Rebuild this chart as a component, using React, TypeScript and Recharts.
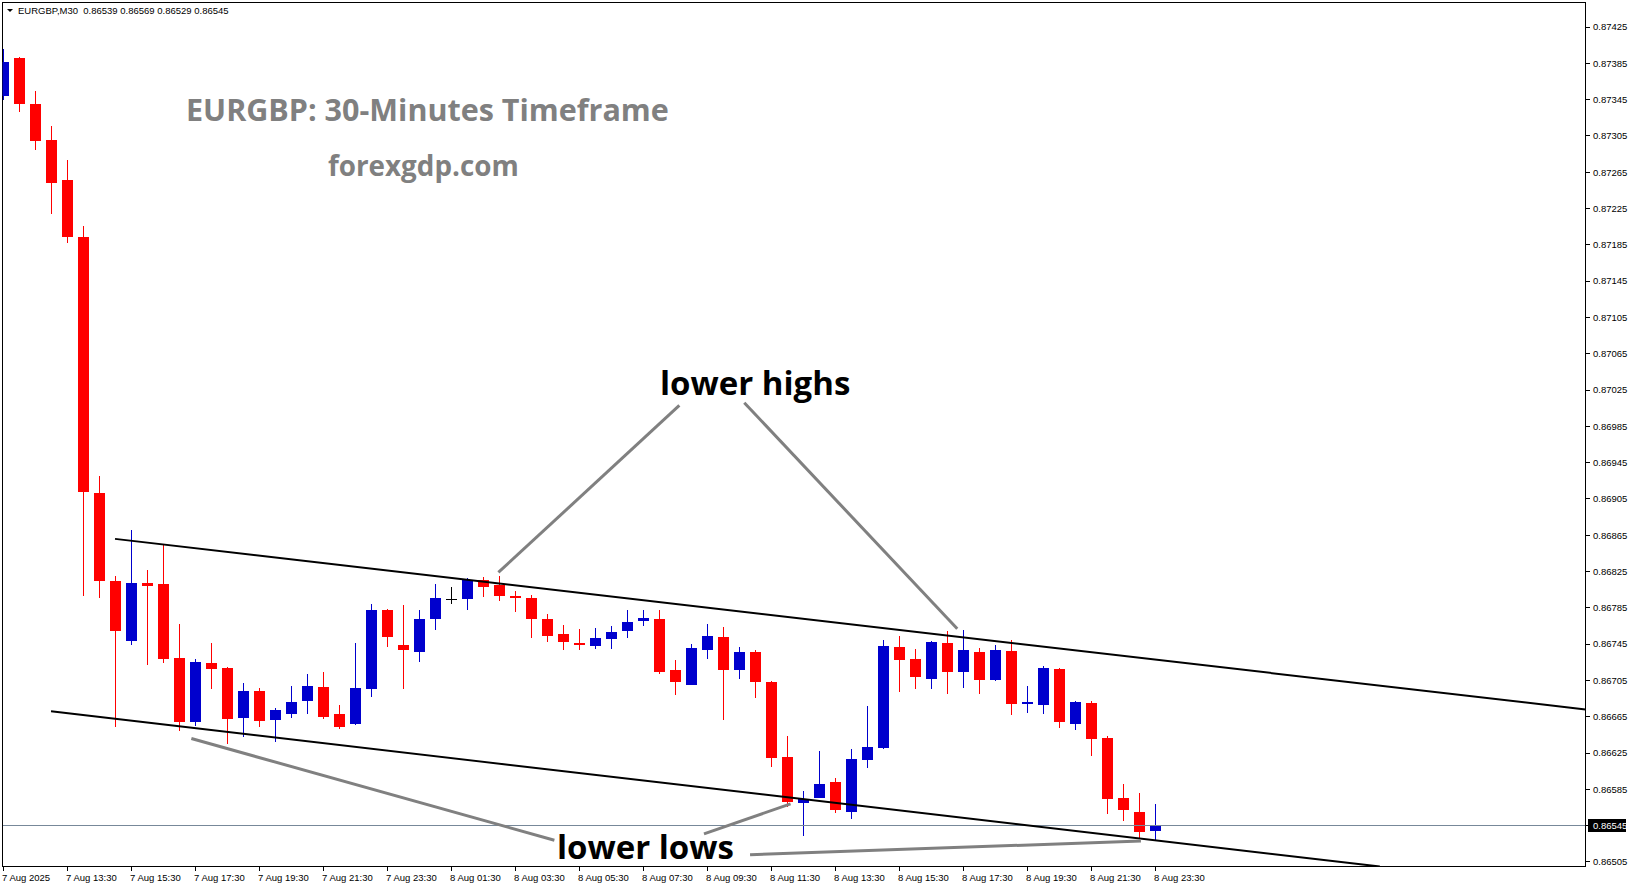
// EURGBP M30 candles in an MT4-style frame: blue bull / red bear bodies,
// black channel lines, grey pointer lines and the last-price tag on the right.

import {
  ComposedChart,
  Bar,
  XAxis,
  YAxis,
  ReferenceLine,
  ReferenceArea,
} from "recharts";

const OPEN = [
  0.87349, 0.87391, 0.8734, 0.873, 0.87256, 0.87194, 0.86912, 0.86815, 0.86748, 0.86812,
  0.86811, 0.8673, 0.86659, 0.86724, 0.86719, 0.86664, 0.86693, 0.86661, 0.86668, 0.86682,
  0.86698, 0.86668, 0.86657, 0.86696, 0.86783, 0.86744, 0.86736, 0.86773, 0.86795, 0.86795,
  0.86816, 0.8681, 0.86798, 0.86796, 0.86773, 0.86756, 0.86746, 0.86743, 0.86751, 0.86759,
  0.8677, 0.86773, 0.86717, 0.867, 0.86739, 0.86753, 0.86716, 0.86736, 0.86703, 0.86621,
  0.8657, 0.86575, 0.86593, 0.8656, 0.86617, 0.86631, 0.86742, 0.86729, 0.86707, 0.86746,
  0.86714, 0.86736, 0.86706, 0.86738, 0.86679, 0.86678, 0.86718, 0.86657, 0.8668, 0.86642,
  0.86575, 0.8656, 0.86539,
];
const HIGH = [
  0.87401, 0.87392, 0.87355, 0.87316, 0.87278, 0.87206, 0.8693, 0.8682, 0.86871, 0.86827,
  0.86855, 0.86767, 0.86729, 0.86746, 0.8672, 0.86702, 0.86697, 0.86675, 0.86699, 0.86712,
  0.86714, 0.86678, 0.86746, 0.86789, 0.86784, 0.86788, 0.86783, 0.86811, 0.86808, 0.86818,
  0.86819, 0.8682, 0.86804, 0.86799, 0.86778, 0.86766, 0.86762, 0.86763, 0.86765, 0.86783,
  0.86783, 0.86783, 0.86728, 0.86745, 0.86767, 0.86764, 0.86742, 0.86739, 0.86704, 0.86644,
  0.86583, 0.86627, 0.86598, 0.8663, 0.86677, 0.8675, 0.86754, 0.8674, 0.86748, 0.8676,
  0.86761, 0.86741, 0.86744, 0.8675, 0.86699, 0.86721, 0.86719, 0.86682, 0.86682, 0.86644,
  0.86591, 0.86581, 0.86569,
];
const LOW = [
  0.87345, 0.87331, 0.87289, 0.87219, 0.87187, 0.86798, 0.86796, 0.86654, 0.86744, 0.86722,
  0.86724, 0.86649, 0.86655, 0.86696, 0.86635, 0.86643, 0.86654, 0.86637, 0.86664, 0.86668,
  0.86663, 0.86651, 0.86656, 0.86687, 0.86742, 0.86696, 0.86725, 0.86761, 0.86789, 0.86783,
  0.86797, 0.86792, 0.8678, 0.86752, 0.86747, 0.86739, 0.86739, 0.8674, 0.8674, 0.86752,
  0.86765, 0.86712, 0.86689, 0.867, 0.86729, 0.86661, 0.86707, 0.86686, 0.8661, 0.86566,
  0.86534, 0.86575, 0.86559, 0.86552, 0.86609, 0.86629, 0.86692, 0.86696, 0.86696, 0.8669,
  0.86697, 0.8669, 0.86704, 0.86667, 0.86669, 0.86668, 0.86653, 0.8665, 0.86622, 0.86558,
  0.8655, 0.86531, 0.86529,
];
const CLOSE = [
  0.87386, 0.8734, 0.87299, 0.87253, 0.87194, 0.86913, 0.86815, 0.86759, 0.86812, 0.86809,
  0.86729, 0.86659, 0.86725, 0.86718, 0.86663, 0.86693, 0.8666, 0.86672, 0.86681, 0.86699,
  0.86665, 0.86654, 0.86697, 0.86783, 0.86753, 0.86739, 0.86773, 0.86796, 0.86795, 0.86816,
  0.86808, 0.86798, 0.86796, 0.86773, 0.86754, 0.86747, 0.86744, 0.86752, 0.86758, 0.86769,
  0.86774, 0.86714, 0.86703, 0.86741, 0.86754, 0.86716, 0.86736, 0.86703, 0.8662, 0.86571,
  0.86574, 0.86591, 0.86562, 0.86619, 0.86632, 0.86743, 0.86728, 0.86709, 0.86747, 0.86714,
  0.86739, 0.86705, 0.86739, 0.86679, 0.86681, 0.86719, 0.86659, 0.86681, 0.86641, 0.86574,
  0.86562, 0.86538, 0.86545,
];

// one label every 4 bars (2 hours), starting at the first bar
const TIME_LABELS = [
  "7 Aug 2025", "7 Aug 13:30", "7 Aug 15:30", "7 Aug 17:30", "7 Aug 19:30",
  "7 Aug 21:30", "7 Aug 23:30", "8 Aug 01:30", "8 Aug 03:30", "8 Aug 05:30",
  "8 Aug 07:30", "8 Aug 09:30", "8 Aug 11:30", "8 Aug 13:30", "8 Aug 15:30",
  "8 Aug 17:30", "8 Aug 19:30", "8 Aug 21:30", "8 Aug 23:30",
];
const PRICE_TICKS = [
  0.87425, 0.87385, 0.87345, 0.87305, 0.87265, 0.87225, 0.87185, 0.87145,
  0.87105, 0.87065, 0.87025, 0.86985, 0.86945, 0.86905, 0.86865, 0.86825,
  0.86785, 0.86745, 0.86705, 0.86665, 0.86625, 0.86585, 0.86545, 0.86505,
];
const LAST_PRICE = 0.86545;

// drawn objects, as [bar index, price] end points
const CHANNEL_UPPER = [{ x: 6.97, y: 0.86861 }, { x: 98.875, y: 0.86673 }];
const CHANNEL_LOWER = [{ x: 2.97, y: 0.86671 }, { x: 86.02, y: 0.865 }];
const HIGH_POINTERS = [
  [{ x: 42.24, y: 0.87008 }, { x: 30.93, y: 0.86824 }],
  [{ x: 46.3, y: 0.87011 }, { x: 59.61, y: 0.86762 }],
];
const LOW_POINTERS = [
  [{ x: 11.74, y: 0.86641 }, { x: 34.43, y: 0.86529 }],
  [{ x: 43.78, y: 0.86536 }, { x: 49.19, y: 0.86569 }],
  [{ x: 46.66, y: 0.86513 }, { x: 71.09, y: 0.86528 }],
];

const BULL = "#0000CD";
const BEAR = "#FF0000";
const DOJI = "#000000";
const GREY = "#808080";
const AXIS_FONT = "'Liberation Sans', Arial, sans-serif";
const TITLE_FONT = "'Open Sans', 'Noto Sans', sans-serif";

const data = OPEN.map((o, i) => ({
  idx: i,
  open: o,
  high: HIGH[i],
  low: LOW[i],
  close: CLOSE[i],
  range: [LOW[i], HIGH[i]],
}));

const TICK_IDX = TIME_LABELS.map((_, k) => k * 4);

function Candle(props: any) {
  const { x, y, width, height, payload } = props;
  if (!payload) return null;
  const cx = x + width / 2;
  const top = Math.min(y, y + height);
  const bottom = Math.max(y, y + height);
  const span = payload.high - payload.low;
  const toY = (v: number) =>
    span === 0 ? top : top + ((payload.high - v) / span) * (bottom - top);
  const oY = toY(payload.open);
  const cY = toY(payload.close);
  const color =
    payload.close > payload.open ? BULL : payload.close < payload.open ? BEAR : DOJI;
  const bodyTop = Math.min(oY, cY);
  const bodyH = Math.max(Math.abs(cY - oY), 1);
  return (
    <g shapeRendering="crispEdges">
      <rect x={cx - 0.5} y={top} width={1} height={Math.max(bottom - top, 1)} fill={color} />
      <rect x={cx - 5.5} y={bodyTop} width={11} height={bodyH} fill={color} />
    </g>
  );
}

function TimeTick(props: any) {
  const { x, y, payload } = props;
  const label = TIME_LABELS[Math.round(payload.value / 4)];
  return (
    <g>
      <line x1={x} x2={x} y1={y} y2={y + 4} stroke="#000" shapeRendering="crispEdges" />
      <text x={x - 1.5} y={y + 14} fontFamily={AXIS_FONT} fontSize={9.5} fill="#000">
        {label}
      </text>
    </g>
  );
}

// price labels; the last price gets the black bid tag instead of a plain label
function PriceTick(props: any) {
  const { x, y, payload } = props;
  const v = Number(payload.value);
  const isLast = Math.abs(v - LAST_PRICE) < 1e-7;
  return (
    <g>
      <line x1={x} x2={x + 4} y1={y} y2={y} stroke="#000" shapeRendering="crispEdges" />
      {isLast && (
        <rect x={x + 2.5} y={y - 6.5} width={38} height={13} fill="#000" shapeRendering="crispEdges" />
      )}
      <text
        x={x + 7.5}
        y={y}
        dy="0.35em"
        fontFamily={AXIS_FONT}
        fontSize={9.5}
        fill={isLast ? "#fff" : "#000"}
      >
        {v.toFixed(5)}
      </text>
    </g>
  );
}

export default function App() {
  const last = OPEN.length - 1;
  const header = `EURGBP,M30  ${OPEN[last].toFixed(5)} ${HIGH[last].toFixed(5)} ${LOW[last].toFixed(5)} ${CLOSE[last].toFixed(5)}`;

  return (
    <div style={{ position: "absolute", left: 0, top: 0, width: 1631, height: 888, background: "#fff" }}>
      <ComposedChart
        width={1631}
        height={888}
        data={data}
        margin={{ top: 2.5, right: 0, bottom: 0, left: 2.5 }}
      >
        <XAxis
          type="number"
          dataKey="idx"
          domain={[-0.0625, 98.875]}
          allowDataOverflow
          ticks={TICK_IDX}
          interval={0}
          tick={<TimeTick />}
          tickLine={false}
          tickSize={0}
          tickMargin={0}
          height={21.5}
          axisLine={{ stroke: "#000" }}
        />
        <YAxis
          orientation="right"
          type="number"
          domain={[0.865, 0.87452]}
          allowDataOverflow
          ticks={PRICE_TICKS}
          interval={0}
          width={45.5}
          tick={<PriceTick />}
          tickLine={false}
          tickSize={0}
          tickMargin={0}
          axisLine={{ stroke: "#000" }}
        />
        <ReferenceArea
          x1={-0.0625}
          x2={98.875}
          y1={0.865}
          y2={0.87452}
          fill="none"
          stroke="#000"
          strokeWidth={1}
          shapeRendering="crispEdges"
        />
        <ReferenceLine
          y={LAST_PRICE}
          stroke="#778899"
          strokeWidth={1}
          shapeRendering="crispEdges"
        />
        <Bar
          dataKey="range"
          barSize={11}
          isAnimationActive={false}
          shape={(p: any) => <Candle {...p} />}
        />
        <ReferenceLine segment={CHANNEL_UPPER} stroke="#000" strokeWidth={2} ifOverflow="hidden" />
        <ReferenceLine segment={CHANNEL_LOWER} stroke="#000" strokeWidth={2} ifOverflow="hidden" />
        {HIGH_POINTERS.map((seg, k) => (
          <ReferenceLine key={`h${k}`} segment={seg} stroke={GREY} strokeWidth={3} ifOverflow="hidden" />
        ))}
        {LOW_POINTERS.map((seg, k) => (
          <ReferenceLine key={`l${k}`} segment={seg} stroke={GREY} strokeWidth={3} ifOverflow="hidden" />
        ))}
      </ComposedChart>

      <svg
        width={1631}
        height={888}
        style={{ position: "absolute", left: 0, top: 0, pointerEvents: "none" }}
      >
        <polygon points="7,9 13,9 10,12" fill="#000" />
        <text x={18} y={14} xmlSpace="preserve" fontFamily={AXIS_FONT} fontSize={9.5} fill="#000">
          {header}
        </text>
        <text x={186} y={121} fontFamily={TITLE_FONT} fontWeight={700} fontSize={30.5} fill={GREY}>
          EURGBP: 30-Minutes Timeframe
        </text>
        <text x={328} y={176} fontFamily={TITLE_FONT} fontWeight={700} fontSize={27.8} fill={GREY}>
          forexgdp.com
        </text>
        <text x={660} y={395} fontFamily={TITLE_FONT} fontWeight={700} fontSize={33} fill="#000">
          lower highs
        </text>
        <text x={557} y={859} fontFamily={TITLE_FONT} fontWeight={700} fontSize={33} fill="#000">
          lower lows
        </text>
      </svg>
    </div>
  );
}
